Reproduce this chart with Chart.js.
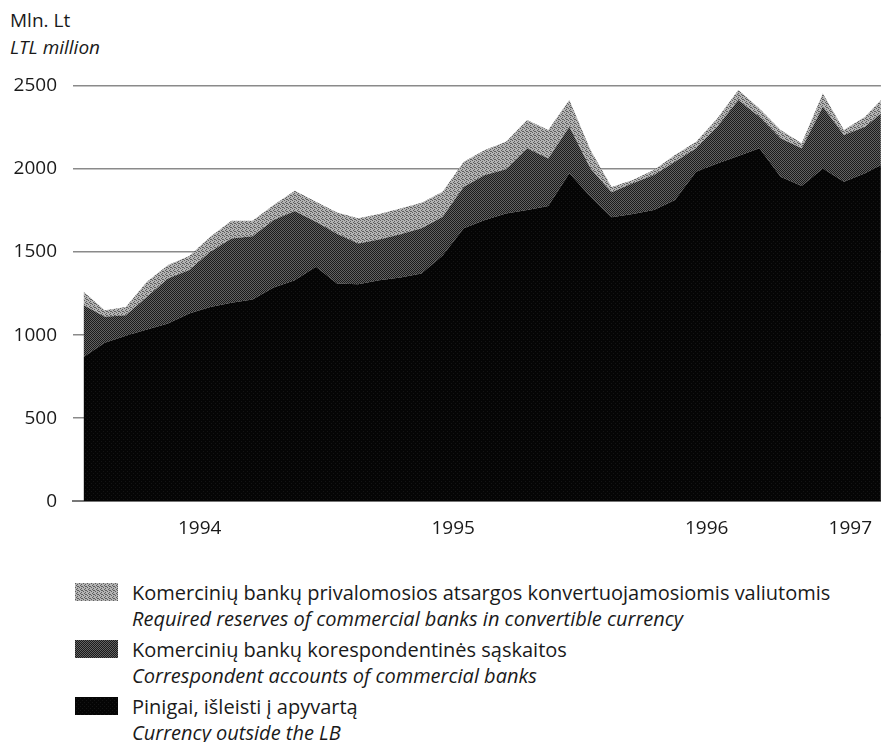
<!DOCTYPE html>
<html>
<head>
<meta charset="utf-8">
<script src="https://cdn.jsdelivr.net/npm/chart.js@4"></script>
<style>
  body { margin: 0; background: #fff; }
  #wrap { position: relative; width: 888px; height: 742px; overflow: hidden; font-family: "Open Sans", sans-serif; color: #1a1a1a; }
  .t { position: absolute; font-size: 19px; line-height: 24px; white-space: nowrap; }
  .it { font-style: italic; }
  #chartBox { position: absolute; left: 0; top: 0; }
  .item { position: absolute; left: 75px; height: 56px; }
  .sw { position: absolute; left: 0; top: 3px; width: 43px; height: 18px; }
  .lines { position: absolute; left: 57px; top: 0; font-size: 20px; line-height: 26px; white-space: nowrap; }
</style>
</head>
<body>
<div id="wrap">
  <div class="t" style="left:10px;top:8px">Mln. Lt</div>
  <div class="t it" style="left:10px;top:35px">LTL million</div>
  <div id="chartBox"><canvas id="c" width="888" height="556"></canvas></div>
</div>
<script>
// months Jan 1994 .. Mar 1997 (last one falls just past the right edge)
var months = ['1994-01','1994-02','1994-03','1994-04','1994-05','1994-06','1994-07','1994-08','1994-09','1994-10','1994-11','1994-12',
  '1995-01','1995-02','1995-03','1995-04','1995-05','1995-06','1995-07','1995-08','1995-09','1995-10','1995-11','1995-12',
  '1996-01','1996-02','1996-03','1996-04','1996-05','1996-06','1996-07','1996-08','1996-09','1996-10','1996-11','1996-12',
  '1997-01','1997-02','1997-03'];

// Pinigai, išleisti į apyvartą / Currency outside the LB
var currency = [869,954,996,1034,1070,1130,1170,1195,1215,1287,1331,1412,
  1311,1307,1331,1347,1371,1480,1643,1693,1733,1753,1777,1974,
  1833,1710,1729,1753,1813,1984,2034,2078,2125,1954,1898,2004,
  1924,1974,2040];

// Komercinių bankų korespondentinės sąskaitos / Correspondent accounts
var correspondent = [312,156,124,197,271,262,332,387,381,406,416,271,
  299,245,245,261,272,233,250,271,265,372,287,281,
  171,150,185,211,231,141,221,338,190,231,227,371,
  281,281,320];

// Komercinių bankų privalomosios atsargos / Required reserves
var reserves = [80,40,50,90,81,84,90,107,93,90,122,120,
  128,151,153,155,154,150,151,150,166,170,171,161,
  110,32,20,30,40,40,50,60,50,50,30,80,
  30,60,88];

var yearLabels = ['1994','1995','1996','1997'];
var yearPos = [5.5, 17.5, 29.5, 36.3];
var yTicks = [0, 500, 1000, 1500, 2000, 2500];

var legendLines = [
  ['Komercinių bankų privalomosios atsargos konvertuojamosiomis valiutomis', 'Required reserves of commercial banks in convertible currency'],
  ['Komercinių bankų korespondentinės sąskaitos', 'Correspondent accounts of commercial banks'],
  ['Pinigai, išleisti į apyvartą', 'Currency outside the LB']
];

// small dithered fills, like the printed halftone
function makePattern(bg, fg, cells) {
  var c = document.createElement('canvas');
  c.width = 4; c.height = 4;
  var g = c.getContext('2d');
  g.fillStyle = bg; g.fillRect(0, 0, 4, 4);
  g.fillStyle = fg;
  cells.forEach(function (p) { g.fillRect(p[0], p[1], 1, 1); });
  return c;
}
var lightTile = makePattern('#b4b4b4', '#5e5e5e', [[0,0],[2,1],[1,2],[3,3],[2,3]]);
var midTile = makePattern('#626262', '#1a1a1a', [[0,0],[2,0],[1,1],[3,1],[0,2],[2,2],[1,3],[3,3]]);
var darkTile = makePattern('#050505', '#141414', [[1,1],[3,3]]);

var ctx = document.getElementById('c').getContext('2d');
var lightFill = ctx.createPattern(lightTile, 'repeat');
var midFill = ctx.createPattern(midTile, 'repeat');
var darkFill = ctx.createPattern(darkTile, 'repeat');

function pts(arr) { return arr.map(function (v, i) { return { x: i, y: v }; }); }

var chart = new Chart(ctx, {
  type: 'line',
  data: {
    datasets: [
      { label: 'Currency outside the LB', data: pts(currency), backgroundColor: darkFill, fill: 'origin' },
      { label: 'Correspondent accounts', data: pts(correspondent), backgroundColor: midFill, fill: '-1' },
      { label: 'Required reserves', data: pts(reserves), backgroundColor: lightFill, fill: '-1' }
    ]
  },
  options: {
    responsive: false,
    animation: false,
    layout: { padding: { top: 86, right: 0, left: 0, bottom: 0 } },
    elements: { line: { borderWidth: 0, tension: 0 }, point: { radius: 0 } },
    plugins: { legend: { display: false }, tooltip: { enabled: false } },
    scales: {
      x: {
        type: 'linear',
        min: -0.5,
        max: 37.75,
        grid: { display: false, drawTicks: false },
        border: { display: true, color: '#777', width: 2 },
        afterBuildTicks: function (scale) {
          scale.ticks = yearPos.map(function (v) { return { value: v }; });
        },
        ticks: {
          autoSkip: false,
          maxRotation: 0,
          padding: 16,
          color: '#1a1a1a',
          font: { family: 'Open Sans', size: 19 },
          callback: function (v, i) { return yearLabels[i]; }
        }
      },
      y: {
        stacked: true,
        min: 0,
        max: 2500,
        afterBuildTicks: function (scale) {
          scale.ticks = yTicks.map(function (v) { return { value: v }; });
        },
        afterFit: function (scale) { scale.width = 73; },
        grid: { color: '#8a8a8a', lineWidth: 1.5, drawTicks: false },
        border: { display: false },
        ticks: {
          padding: 16,
          color: '#1a1a1a',
          font: { family: 'Open Sans', size: 19 },
          callback: function (v) { return String(v); }
        }
      }
    }
  }
});

// legend below the chart
var tiles = [lightTile, midTile, darkTile];
var tops = [580, 637, 694];
legendLines.forEach(function (lines, k) {
  var item = document.createElement('div');
  item.className = 'item';
  item.style.top = tops[k] + 'px';
  var sw = document.createElement('div');
  sw.className = 'sw';
  sw.style.backgroundImage = 'url(' + tiles[k].toDataURL() + ')';
  item.appendChild(sw);
  var tx = document.createElement('div');
  tx.className = 'lines';
  tx.innerHTML = '<div>' + lines[0] + '</div><div class="it">' + lines[1] + '</div>';
  item.appendChild(tx);
  document.getElementById('wrap').appendChild(item);
});
</script>
</body>
</html>
